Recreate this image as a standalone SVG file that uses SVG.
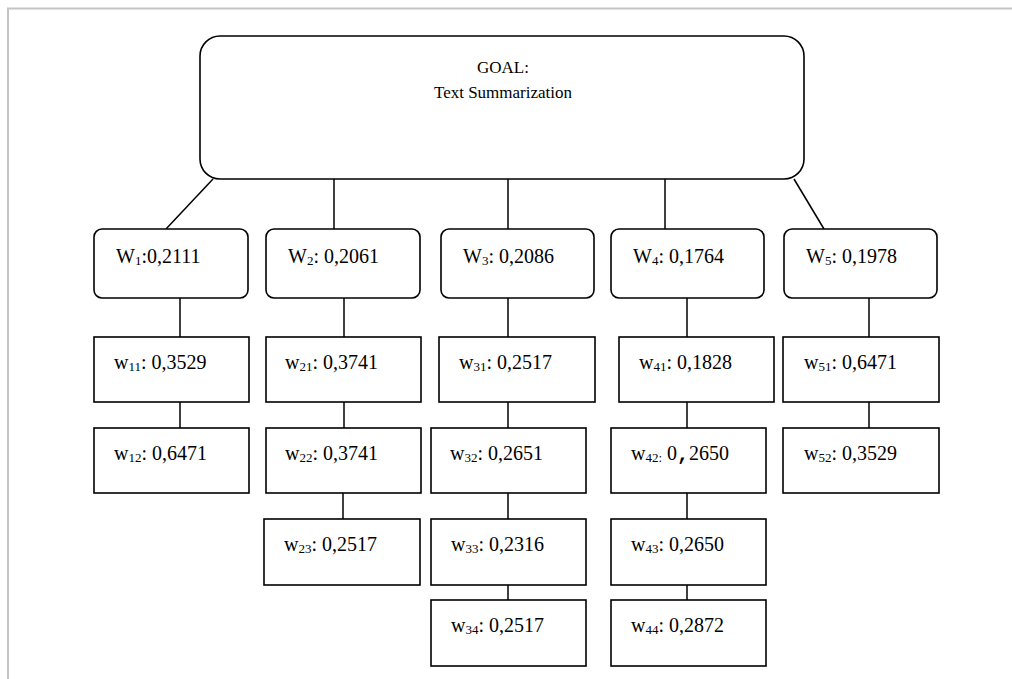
<svg xmlns="http://www.w3.org/2000/svg" width="1012" height="679" viewBox="0 0 1012 679">
<style>
.bg{fill:#fff}
.frame{stroke:#c4c4c4;stroke-width:2;fill:none}
.box{fill:#fff;stroke:#000;stroke-width:1.6}
.ln{stroke:#000;stroke-width:1.5;fill:none}
text{font-family:"Liberation Serif","Times New Roman",serif;fill:#000}
.t{font-size:20px}
.g{font-size:17px;text-anchor:middle}
.s{font-size:13px}
.m{font-family:"Liberation Mono","Courier New",monospace;font-weight:bold}
</style>
<rect class="bg" x="0" y="0" width="1012" height="679"/>
<path class="frame" d="M8,679 V8.5 H1012"/>
<g id="connectors">
<line class="ln" x1="213" y1="179" x2="166" y2="229"/>
<line class="ln" x1="334" y1="179" x2="334" y2="229"/>
<line class="ln" x1="508" y1="179" x2="508" y2="229"/>
<line class="ln" x1="665" y1="179" x2="665" y2="229"/>
<line class="ln" x1="794" y1="179" x2="824" y2="229"/>
<line class="ln" x1="180" y1="298" x2="180" y2="337"/>
<line class="ln" x1="180" y1="402" x2="180" y2="428"/>
<line class="ln" x1="344" y1="298" x2="344" y2="337"/>
<line class="ln" x1="344" y1="402" x2="344" y2="428"/>
<line class="ln" x1="343" y1="493" x2="343" y2="519"/>
<line class="ln" x1="508" y1="298" x2="508" y2="337"/>
<line class="ln" x1="508" y1="402" x2="508" y2="428"/>
<line class="ln" x1="508" y1="493" x2="508" y2="519"/>
<line class="ln" x1="508" y1="585" x2="508" y2="600"/>
<line class="ln" x1="687" y1="298" x2="687" y2="337"/>
<line class="ln" x1="687" y1="402" x2="687" y2="428"/>
<line class="ln" x1="687" y1="493" x2="687" y2="519"/>
<line class="ln" x1="687" y1="585" x2="687" y2="600"/>
<line class="ln" x1="869" y1="298" x2="869" y2="337"/>
<line class="ln" x1="869" y1="402" x2="869" y2="428"/>
</g>
<g id="goal">
<rect class="box" x="200" y="36" width="604" height="143" rx="20" ry="20"/>
<text class="g" x="503" y="73">GOAL:</text>
<text class="g" x="503" y="98">Text Summarization</text>
</g>
<g id="W1"><rect class="box" x="94" y="229" width="154" height="69" rx="8"/>
<text class="t" x="116" y="263">W<tspan class="s" dy="2">1</tspan><tspan dy="-2">:0,2111</tspan></text></g>
<g id="W2"><rect class="box" x="266" y="229" width="154" height="69" rx="8"/>
<text class="t" x="288" y="263">W<tspan class="s" dy="2">2</tspan><tspan dy="-2">: 0,2061</tspan></text></g>
<g id="W3"><rect class="box" x="441" y="229" width="153" height="69" rx="8"/>
<text class="t" x="463" y="263">W<tspan class="s" dy="2">3</tspan><tspan dy="-2">: 0,2086</tspan></text></g>
<g id="W4"><rect class="box" x="611" y="229" width="153" height="69" rx="8"/>
<text class="t" x="633" y="263">W<tspan class="s" dy="2">4</tspan><tspan dy="-2">: 0,1764</tspan></text></g>
<g id="W5"><rect class="box" x="784" y="229" width="153" height="69" rx="8"/>
<text class="t" x="806" y="263">W<tspan class="s" dy="2">5</tspan><tspan dy="-2">: 0,1978</tspan></text></g>

<g id="w11"><rect class="box" x="94" y="337" width="155" height="65"/>
<text class="t" x="114" y="369">w<tspan class="s" dy="2">11</tspan><tspan dy="-2">: 0,3529</tspan></text></g>
<g id="w12"><rect class="box" x="94" y="428" width="155" height="65"/>
<text class="t" x="114" y="460">w<tspan class="s" dy="2">12</tspan><tspan dy="-2">: 0,6471</tspan></text></g>

<g id="w21"><rect class="box" x="266" y="337" width="155" height="65"/>
<text class="t" x="285" y="369">w<tspan class="s" dy="2">21</tspan><tspan dy="-2">: 0,3741</tspan></text></g>
<g id="w22"><rect class="box" x="266" y="428" width="155" height="65"/>
<text class="t" x="285" y="460">w<tspan class="s" dy="2">22</tspan><tspan dy="-2">: 0,3741</tspan></text></g>
<g id="w23"><rect class="box" x="264" y="519" width="156" height="66"/>
<text class="t" x="284" y="551">w<tspan class="s" dy="2">23</tspan><tspan dy="-2">: 0,2517</tspan></text></g>

<g id="w31"><rect class="box" x="439" y="337" width="156" height="65"/>
<text class="t" x="459" y="369">w<tspan class="s" dy="2">31</tspan><tspan dy="-2">: 0,2517</tspan></text></g>
<g id="w32"><rect class="box" x="431" y="428" width="155" height="65"/>
<text class="t" x="450" y="460">w<tspan class="s" dy="2">32</tspan><tspan dy="-2">: 0,2651</tspan></text></g>
<g id="w33"><rect class="box" x="431" y="519" width="155" height="66"/>
<text class="t" x="451" y="551">w<tspan class="s" dy="2">33</tspan><tspan dy="-2">: 0,2316</tspan></text></g>
<g id="w34"><rect class="box" x="431" y="600" width="155" height="66"/>
<text class="t" x="451" y="632">w<tspan class="s" dy="2">34</tspan><tspan dy="-2">: 0,2517</tspan></text></g>

<g id="w41"><rect class="box" x="619" y="337" width="155" height="65"/>
<text class="t" x="639" y="369">w<tspan class="s" dy="2">41</tspan><tspan dy="-2">: 0,1828</tspan></text></g>
<g id="w42"><rect class="box" x="611" y="428" width="155" height="65"/>
<text class="t" x="631" y="460">w<tspan class="s" dy="2">42:</tspan><tspan dy="-2"> 0</tspan><tspan class="m">,</tspan>2650</text></g>
<g id="w43"><rect class="box" x="611" y="519" width="155" height="66"/>
<text class="t" x="631" y="551">w<tspan class="s" dy="2">43</tspan><tspan dy="-2">: 0,2650</tspan></text></g>
<g id="w44"><rect class="box" x="611" y="600" width="155" height="66"/>
<text class="t" x="631" y="632">w<tspan class="s" dy="2">44</tspan><tspan dy="-2">: 0,2872</tspan></text></g>

<g id="w51"><rect class="box" x="783" y="337" width="156" height="65"/>
<text class="t" x="804" y="369">w<tspan class="s" dy="2">51</tspan><tspan dy="-2">: 0,6471</tspan></text></g>
<g id="w52"><rect class="box" x="783" y="428" width="156" height="65"/>
<text class="t" x="804" y="460">w<tspan class="s" dy="2">52</tspan><tspan dy="-2">: 0,3529</tspan></text></g>
</svg>
